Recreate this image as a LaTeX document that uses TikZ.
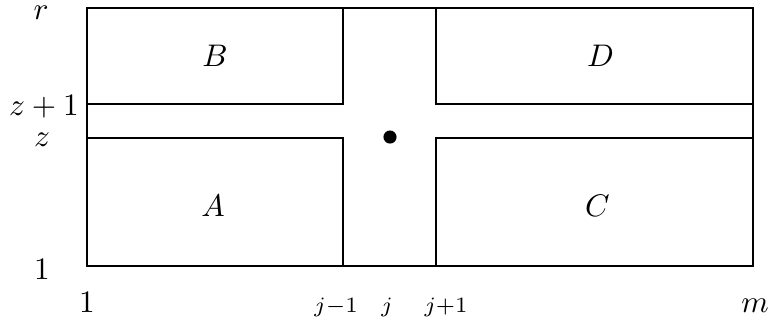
\documentclass[tikz,border=0pt]{standalone}
\usepackage{amsmath,amssymb}
\usetikzlibrary{fit,calc}
\tikzset{
  rim/.style={draw,line width=0.7pt},
  zone/.style={rim,inner sep=0pt},
  tag/.style={font=\normalsize,inner sep=0pt},
  tick/.style={font=\normalsize,anchor=base,inner sep=0pt},
  subtick/.style={tick,font=\scriptsize},
  site/.style={circle,fill,inner sep=0pt,minimum size=4.2pt},
}
\begin{document}
\begin{tikzpicture}[x=0.32pt,y=0.32pt]
  \useasboundingbox (0,0) rectangle (774,324);
  % outer grid
  \coordinate (sw) at (87,58);
  \coordinate (ne) at (753,316);
  \draw[rim] (sw) rectangle (ne);
  % the four blocks round the cell
  \coordinate (a1) at (87,58);   \coordinate (a2) at (343,186);
  \coordinate (b1) at (87,220);  \coordinate (b2) at (343,316);
  \coordinate (c1) at (436,58);  \coordinate (c2) at (753,186);
  \coordinate (d1) at (436,220); \coordinate (d2) at (753,316);
  \node[zone,fit=(a1)(a2)] (A) {};
  \node[zone,fit=(b1)(b2)] (B) {};
  \node[zone,fit=(c1)(c2)] (C) {};
  \node[zone,fit=(d1)(d2)] (D) {};
  \node[tag] (la) at ($(A.center)+(-2,-4)$) {$A$};
  \node[tag] (lb) at (B.center) {$B$};
  \node[tag] (lc) at ($(C.center)+(3,-4)$) {$C$};
  \node[tag] (ld) at ($(D.center)+(6,0)$) {$D$};
  \node[site] (cell) at (390,187) {};
  % row labels
  \node[tick] (lr)  at (41,305) {$r$};
  \node[tick] (lz1) at (44,209) {$z+1$};
  \node[tick] (lz)  at (42,178) {$z$};
  \node[tick] (ly1) at (42,45)  {$1$};
  % column labels
  \node[tick] (lx1) at (87,12)  {$1$};
  \node[subtick] (ljm) at (336,12) {$j{-}1$};
  \node[subtick] (lj)  at (387,12) {$j$};
  \node[subtick] (ljp) at (446,12) {$j{+}1$};
  \node[tick] (lm)  at (755,12) {$m$};
\end{tikzpicture}
\end{document}
